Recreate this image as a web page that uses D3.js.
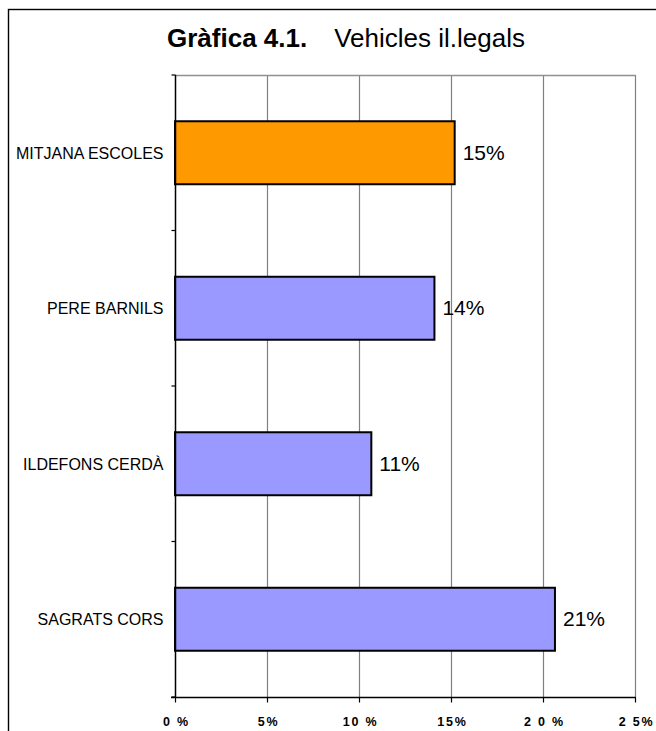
<!DOCTYPE html>
<html>
<head>
<meta charset="utf-8">
<script src="https://cdn.jsdelivr.net/npm/d3@7"></script>
<style>
  body { margin: 0; background: #fff; }
  text { font-family: "Liberation Sans", Arial, sans-serif; }
</style>
</head>
<body>
<div id="chart"></div>
<script>
// data
const categories = ["MITJANA ESCOLES", "PERE BARNILS", "ILDEFONS CERDÀ", "SAGRATS CORS"];
const values = [15.2, 14.1, 10.67, 20.65];
const valueLabels = ["15%", "14%", "11%", "21%"];
const barColors = ["#FF9900", "#9999FF", "#9999FF", "#9999FF"];
const tickValues = [0, 5, 10, 15, 20, 25];
const tickLabels = ["0 %", "5%", "10 %", "15%", "2 0 %", "2 5%"];

const width = 656, height = 731;
const margin = { top: 75, left: 175, right: 21, bottom: 34 };

const svg = d3.select("#chart").append("svg")
    .attr("width", width)
    .attr("height", height);

// outer frame (cut off at right / bottom like the original)
svg.append("rect")
    .attr("x", 8.5).attr("y", 9.5)
    .attr("width", width + 10).attr("height", height + 10)
    .attr("fill", "none")
    .attr("stroke", "#000")
    .attr("stroke-width", 1.4);

// title
const title = svg.append("text")
    .attr("x", 167).attr("y", 47)
    .style("font-size", "26px");
title.append("tspan").attr("font-weight", "bold").text("Gràfica 4.1.");
title.append("tspan").attr("dx", 27).text("Vehicles il.legals");

const x = d3.scaleLinear()
    .domain([0, 25])
    .range([margin.left, width - margin.right]);

const y = d3.scaleBand()
    .domain(categories)
    .range([margin.top, height - margin.bottom])
    .paddingInner(0.595)
    .paddingOuter(0.2975);

const yTop = margin.top, yBot = height - margin.bottom;

// vertical gridlines
svg.append("g")
    .selectAll("line")
    .data(tickValues.slice(1))
    .join("line")
    .attr("x1", d => x(d) + 0.5).attr("x2", d => x(d) + 0.5)
    .attr("y1", yTop).attr("y2", yBot)
    .attr("stroke", "#808080")
    .attr("stroke-width", 1.2);

// top edge of plot area
svg.append("line")
    .attr("x1", x(0)).attr("x2", x(25) + 1)
    .attr("y1", yTop + 0.5).attr("y2", yTop + 0.5)
    .attr("stroke", "#909090")
    .attr("stroke-width", 1.5);

// bars
svg.append("g")
    .selectAll("rect")
    .data(values)
    .join("rect")
    .attr("x", x(0))
    .attr("y", (d, i) => y(categories[i]))
    .attr("width", d => x(d) - x(0))
    .attr("height", y.bandwidth())
    .attr("fill", (d, i) => barColors[i])
    .attr("stroke", "#000")
    .attr("stroke-width", 2);

// value labels
svg.append("g")
    .selectAll("text")
    .data(values)
    .join("text")
    .attr("x", d => x(d) + 8)
    .attr("y", (d, i) => y(categories[i]) + y.bandwidth() / 2 + 7)
    .style("font-size", "21px")
    .text((d, i) => valueLabels[i]);

// x axis
const xAxis = svg.append("g")
    .attr("transform", `translate(0,${yBot + 0.5})`)
    .call(d3.axisBottom(x)
        .tickValues(tickValues)
        .tickSize(5)
        .tickFormat((d, i) => tickLabels[i]));
xAxis.select(".domain").attr("stroke", "#000").attr("stroke-width", 1.5)
    .attr("d", `M${x(0) - 4},0H${x(25) + 1}`);
xAxis.selectAll(".tick line").attr("stroke", "#000").attr("stroke-width", 1.2);
xAxis.selectAll(".tick text")
    .attr("y", 28)
    .attr("dy", "0")
    .attr("dx", "1")
    .style("font-family", "'Liberation Sans', Arial, sans-serif")
    .style("font-size", "12.5px")
    .style("font-weight", "bold")
    .style("letter-spacing", "1.8px")
    .attr("fill", "#000");

// y axis
const yAxis = svg.append("g")
    .attr("transform", `translate(${x(0) + 0.5},0)`)
    .call(d3.axisLeft(y).tickSize(0).tickPadding(12));
yAxis.select(".domain").remove();
yAxis.append("line")
    .attr("y1", yTop).attr("y2", yBot)
    .attr("stroke", "#000").attr("stroke-width", 1.5);
yAxis.selectAll(".tick text")
    .style("font-family", "'Liberation Sans', Arial, sans-serif")
    .style("font-size", "16px")
    .attr("dy", "0.36em")
    .attr("fill", "#000");

// category boundary ticks on the y axis
const bounds = d3.range(categories.length + 1).map(i => yTop + i * (yBot - yTop) / categories.length);
yAxis.append("g")
    .selectAll("line")
    .data(bounds)
    .join("line")
    .attr("x1", -4).attr("x2", 0)
    .attr("y1", d => d).attr("y2", d => d)
    .attr("stroke", "#000").attr("stroke-width", 1.2);
</script>
</body>
</html>
